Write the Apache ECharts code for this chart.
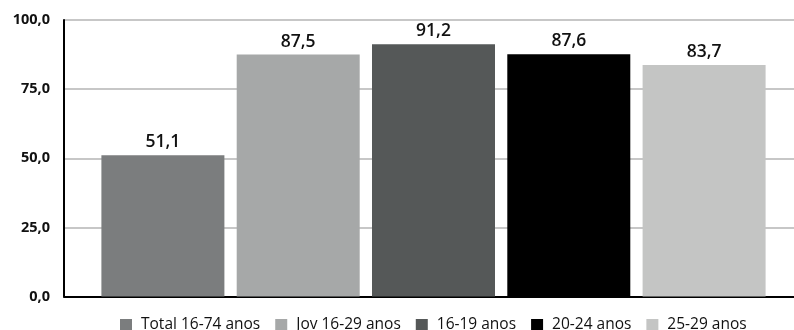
<!DOCTYPE html>
<html><head><meta charset="utf-8">
<script src="https://cdn.jsdelivr.net/npm/echarts@6/dist/echarts.min.js"></script>
<style>html,body{margin:0;padding:0;background:#fff}#c{width:794px;height:330px}</style>
</head><body><div id="c"></div>
<script>
const categories = ['Total'];
const seriesNames = ['Total 16-74 anos', 'Jov 16-29 anos', '16-19 anos', '20-24 anos', '25-29 anos'];
const seriesValues = [51.1, 87.5, 91.2, 87.6, 83.7];
const seriesColors = ['#7b7d7e', '#a6a8a8', '#555858', '#000000', '#c4c5c4'];
const yTicks = [0, 25, 50, 75, 100];
const fmt = v => v.toFixed(1).replace('.', ',');
const chart = echarts.init(document.getElementById('c'));
chart.setOption({
  animation: false,
  textStyle: {fontFamily: 'Open Sans'},
  grid: {left: 64, width: 739, top: 20, bottom: 33.5, outerBoundsMode: 'none', containLabel: false},
  legend: {
    left: 115, top: 312, itemWidth: 12, itemHeight: 12, itemGap: 15,
    icon: 'rect',
    textStyle: {fontSize: 15.5, color: '#111', fontFamily: 'Open Sans', padding: [0, 0, 0, 4]},
    data: seriesNames
  },
  xAxis: {
    type: 'category', data: categories,
    axisLine: {lineStyle: {color: '#000', width: 2}},
    axisTick: {show: false}, axisLabel: {show: false}
  },
  yAxis: {
    type: 'value', min: yTicks[0], max: yTicks[yTicks.length - 1], interval: 25,
    axisLine: {show: true, lineStyle: {color: '#000', width: 2}},
    axisTick: {show: false},
    axisLabel: {formatter: v => fmt(v), fontSize: 14.5, fontWeight: 'bold', color: '#111', margin: 14},
    splitLine: {lineStyle: {color: '#b4b4b4', width: 1.5}}
  },
  series: seriesNames.map((n, i) => ({
    name: n, type: 'bar', data: [seriesValues[i]],
    barWidth: 123, barGap: '10%',
    itemStyle: {color: seriesColors[i]},
    label: {show: true, position: 'top', distance: 4, formatter: p => fmt(p.value),
      fontSize: 17.5, fontWeight: 600, color: '#111', fontFamily: 'Open Sans'}
  }))
});
</script></body></html>
